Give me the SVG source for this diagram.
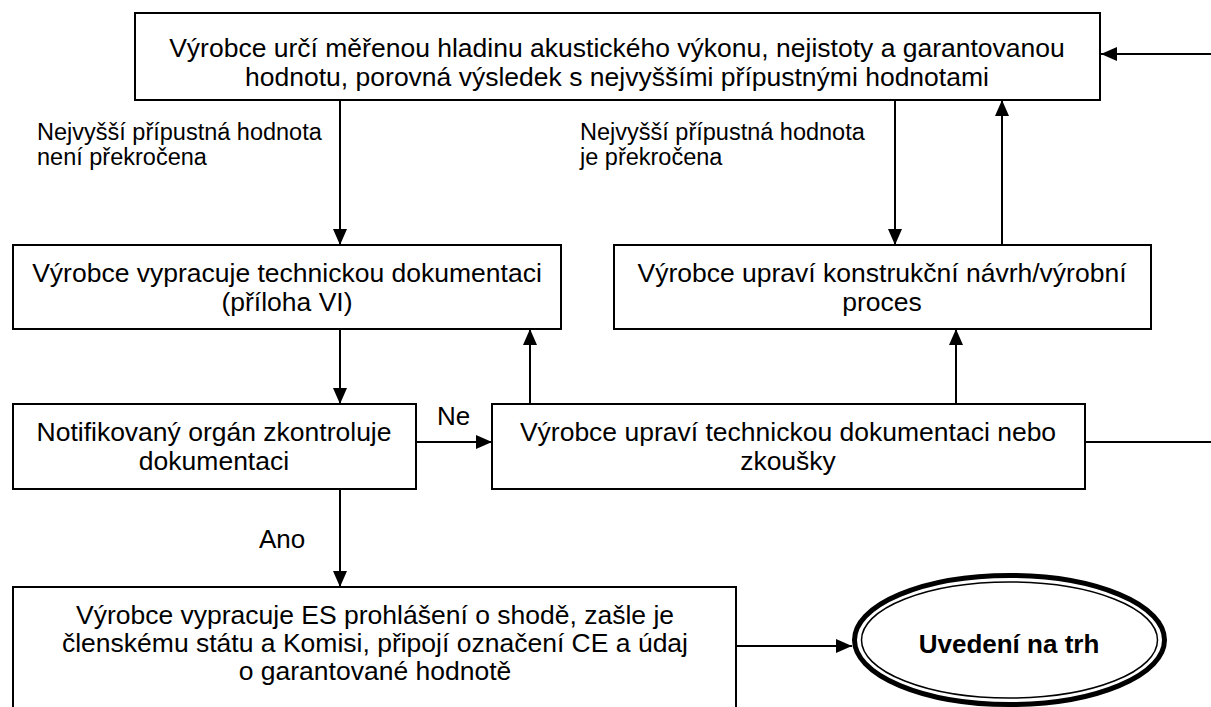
<svg xmlns="http://www.w3.org/2000/svg" width="1211" height="707" viewBox="0 0 1211 707">
<defs>
<marker id="arr" markerUnits="userSpaceOnUse" markerWidth="17" markerHeight="15" refX="16" refY="7" orient="auto">
<path d="M0,0 L16,7 L0,14 z" fill="#000"/>
</marker>
<style>
.box{fill:#fff;stroke:#000;stroke-width:2}
.t{font-family:"Liberation Sans",Arial,sans-serif;font-size:26.5px;fill:#000;text-anchor:middle}
.lbl{font-family:"Liberation Sans",Arial,sans-serif;font-size:23.5px;fill:#000}
.c{fill:none;stroke:#000;stroke-width:2}
.a{marker-end:url(#arr)}
</style>
</defs>
<rect width="1211" height="707" fill="#fff"/>
<g id="connectors">
<line class="c a" x1="340" y1="100" x2="340" y2="245"/>
<line class="c a" x1="895" y1="100" x2="895" y2="245"/>
<line class="c a" x1="1002" y1="245" x2="1002" y2="100"/>
<line class="c a" x1="340" y1="329" x2="340" y2="404"/>
<line class="c a" x1="416" y1="442" x2="492" y2="442"/>
<line class="c a" x1="530" y1="404" x2="530" y2="329"/>
<line class="c a" x1="956" y1="404" x2="956" y2="329"/>
<line class="c" x1="1085" y1="442" x2="1211" y2="442"/>
<line class="c a" x1="1211" y1="54" x2="1101" y2="54"/>
<line class="c a" x1="340" y1="489" x2="340" y2="587"/>
<line class="c a" x1="736" y1="646" x2="852" y2="646"/>
<text class="lbl" x="37" y="140">Nejvyšší přípustná hodnota</text>
<text class="lbl" x="37" y="165">není překročena</text>
<text class="lbl" x="580" y="140">Nejvyšší přípustná hodnota</text>
<text class="lbl" x="580" y="165">je překročena</text>
<text class="lbl" x="437" y="425" style="font-size:26px">Ne</text>
<text class="lbl" x="259" y="548" style="font-size:26px">Ano</text>
</g>
<g id="n1">
<rect class="box" x="135" y="13" width="965" height="87"/>
<text class="t" x="617" y="57">Výrobce určí měřenou hladinu akustického výkonu, nejistoty a garantovanou</text>
<text class="t" x="617" y="86">hodnotu, porovná výsledek s nejvyššími přípustnými hodnotami</text>
</g>
<g id="n2">
<rect class="box" x="13" y="245" width="548" height="84"/>
<text class="t" x="287" y="282">Výrobce vypracuje technickou dokumentaci</text>
<text class="t" x="287" y="311">(příloha VI)</text>
</g>
<g id="n3">
<rect class="box" x="614" y="245" width="537" height="84"/>
<text class="t" x="882" y="282">Výrobce upraví konstrukční návrh/výrobní</text>
<text class="t" x="882" y="311">proces</text>
</g>
<g id="n4">
<rect class="box" x="13" y="404" width="403" height="85"/>
<text class="t" x="214" y="441">Notifikovaný orgán zkontroluje</text>
<text class="t" x="214" y="470">dokumentaci</text>
</g>
<g id="n5">
<rect class="box" x="492" y="404" width="593" height="85"/>
<text class="t" x="788" y="441">Výrobce upraví technickou dokumentaci nebo</text>
<text class="t" x="788" y="470">zkoušky</text>
</g>
<g id="n6">
<rect class="box" x="13" y="587" width="723" height="130"/>
<text class="t" x="375" y="624">Výrobce vypracuje ES prohlášení o shodě, zašle je</text>
<text class="t" x="375" y="652">členskému státu a Komisi, připojí označení CE a údaj</text>
<text class="t" x="375" y="680">o garantované hodnotě</text>
</g>
<g id="n7">
<ellipse cx="1009.5" cy="640" rx="155" ry="64.5" fill="#fff" stroke="#000" stroke-width="5"/>
<ellipse cx="1009.5" cy="640" rx="148" ry="58" fill="none" stroke="#000" stroke-width="1.5"/>
<text class="t" x="1009" y="653" style="font-weight:bold;font-size:26px">Uvedení na trh</text>
</g>
</svg>
